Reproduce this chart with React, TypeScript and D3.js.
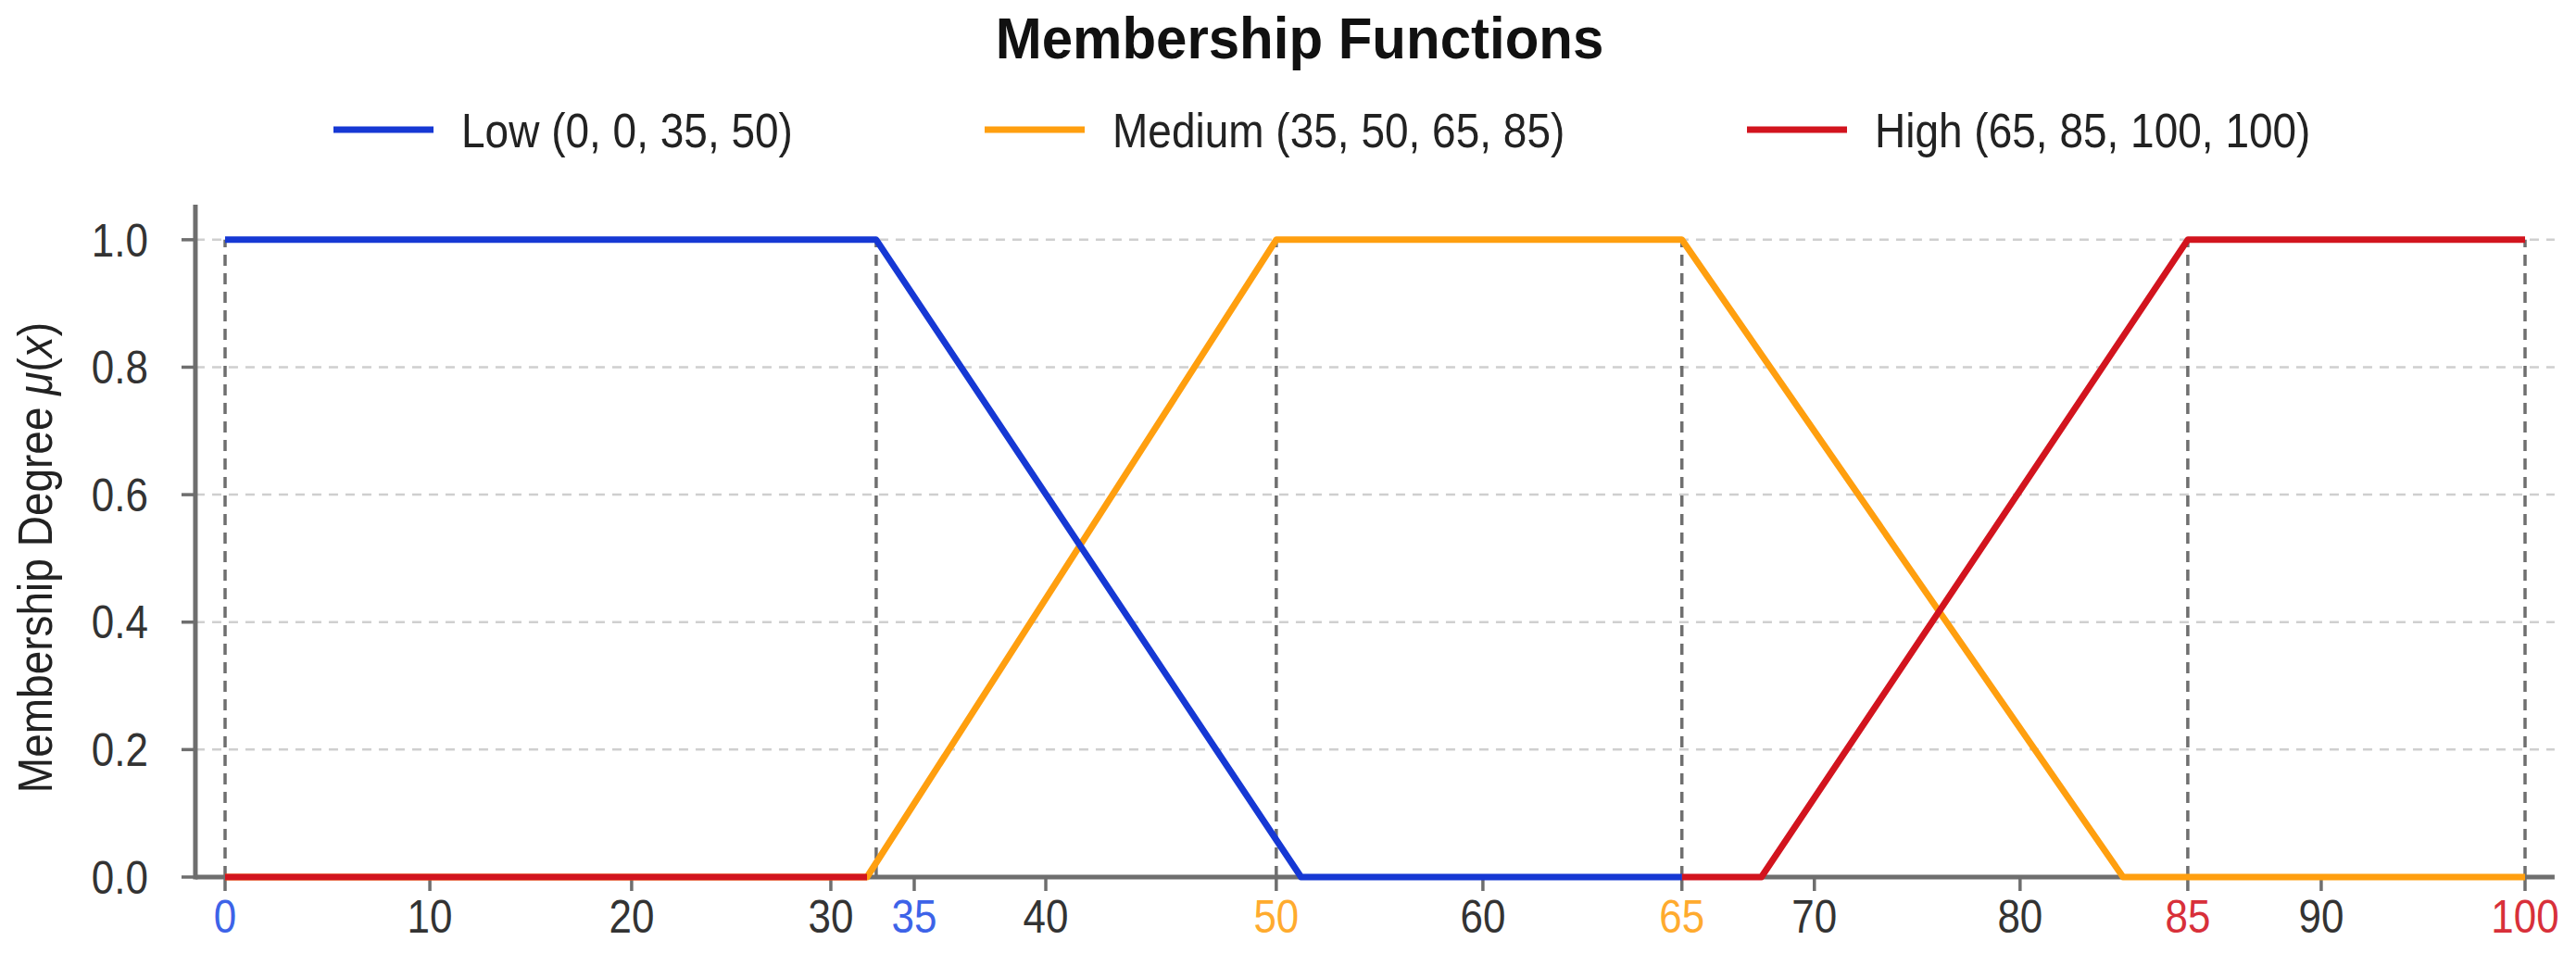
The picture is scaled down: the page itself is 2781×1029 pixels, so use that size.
import React, { useEffect, useRef } from 'react';
import * as d3 from 'd3';

// Axis ticks (the reference spaces them unevenly, so the x scale is piecewise)
const xTicks = [0, 10, 20, 30, 35, 40, 50, 60, 65, 70, 80, 85, 90, 100];
const xTickFrac = [0, 0.0884, 0.1755, 0.2615, 0.2975, 0.3543, 0.4538, 0.5430, 0.6289, 0.6861, 0.7749, 0.8473, 0.9049, 0.9929];
const yTicks = [0, 0.2, 0.4, 0.6, 0.8, 1.0];

// Membership curves (x, mu); null = gap
const lowPts: [number, number | null][] = [[0, 1], [32.72, 1], [51.2, 0], [65, 0]];
const mediumPts: [number, number | null][] = [[0, 0], [32.17, 0], [50, 1], [65, 1], [83.07, 0], [100, 0]];
const highPts: [number, number | null][] = [[0, 0], [32.17, 0], [32.17, null], [65, 0], [68.0, 0], [85, 1], [100, 1]];

// Dashed reference lines
const breakpoints = [0, 32.72, 50, 65, 85, 100];

const seriesNames = ['Low (0, 0, 35, 50)', 'Medium (35, 50, 65, 85)', 'High (65, 85, 100, 100)'];
const seriesColors = ['#1638d4', '#ff9f0f', '#d2141e'];
const tickColors: Record<number, string> = {
  0: '#3d63e8', 35: '#3d63e8', 50: '#ffab2e', 65: '#ffab2e', 85: '#d8303a', 100: '#d8303a',
};

const FONT = '"Liberation Sans", Arial, Helvetica, sans-serif';
const SY = 1.12; // text in the reference is a little stretched vertically

export default function App() {
  const svgRef = useRef<SVGSVGElement>(null);

  useEffect(() => {
    if (!svgRef.current) return;
    const svg = d3.select(svgRef.current);
    svg.selectAll('*').remove();

    const x0 = 243;
    const x100 = 2726;
    const spanW = (x100 - x0) / 0.9929;
    const yBottom = 947;
    const yTop = 221;

    const x = d3.scaleLinear()
      .domain(xTicks)
      .range(xTickFrac.map(f => x0 + f * spanW));
    const y = d3.scaleLinear().domain([0, 1.055]).range([yBottom, yTop]);

    const axisColor = '#6e6e6e';
    const xMin = -1.45;
    const xMax = 101.45;

    // Horizontal grid
    svg.append('g')
      .selectAll('line')
      .data(yTicks.filter(t => t > 0))
      .join('line')
      .attr('x1', x(xMin))
      .attr('x2', x(xMax))
      .attr('y1', d => y(d))
      .attr('y2', d => y(d))
      .attr('stroke', '#cfcfcf')
      .attr('stroke-width', 2.5)
      .attr('stroke-dasharray', '10 8');

    // Breakpoint dashed lines
    svg.append('g')
      .selectAll('line')
      .data(breakpoints)
      .join('line')
      .attr('x1', d => x(d))
      .attr('x2', d => x(d))
      .attr('y1', y(0))
      .attr('y2', y(1))
      .attr('stroke', '#6f6f6f')
      .attr('stroke-width', 3.5)
      .attr('stroke-dasharray', '12 8');

    // Spines
    svg.append('line')
      .attr('x1', x(xMin)).attr('x2', x(xMax))
      .attr('y1', yBottom).attr('y2', yBottom)
      .attr('stroke', axisColor).attr('stroke-width', 5);
    svg.append('line')
      .attr('x1', x(xMin)).attr('x2', x(xMin))
      .attr('y1', yTop).attr('y2', yBottom + 2.5)
      .attr('stroke', axisColor).attr('stroke-width', 5);

    // X ticks
    const gx = svg.append('g');
    gx.selectAll('line')
      .data(xTicks)
      .join('line')
      .attr('x1', d => x(d)).attr('x2', d => x(d))
      .attr('y1', yBottom).attr('y2', yBottom + 15)
      .attr('stroke', axisColor).attr('stroke-width', 3.5);
    gx.selectAll('text')
      .data(xTicks)
      .join('text')
      .attr('transform', d => `translate(${x(d)},${yBottom + 60}) scale(1,${SY})`)
      .attr('text-anchor', 'middle')
      .attr('font-family', FONT)
      .attr('font-size', 44)
      .attr('fill', d => tickColors[d] ?? '#333')
      .text(d => String(d));

    // Y ticks
    const gy = svg.append('g');
    gy.selectAll('line')
      .data(yTicks)
      .join('line')
      .attr('x1', x(xMin) - 15).attr('x2', x(xMin))
      .attr('y1', d => y(d)).attr('y2', d => y(d))
      .attr('stroke', axisColor).attr('stroke-width', 3.5);
    gy.selectAll('text')
      .data(yTicks)
      .join('text')
      .attr('transform', d => `translate(160,${y(d)}) scale(1,${SY})`)
      .attr('dy', '0.36em')
      .attr('text-anchor', 'end')
      .attr('font-family', FONT)
      .attr('font-size', 44)
      .attr('fill', '#333')
      .text(d => d.toFixed(1));

    // Y label
    const yl = svg.append('text')
      .attr('transform', `translate(56,${(yTop + yBottom) / 2 + 18}) rotate(-90) scale(1,${SY})`)
      .attr('text-anchor', 'middle')
      .attr('font-family', FONT)
      .attr('font-size', 46)
      .attr('fill', '#222');
    yl.append('tspan').text('Membership Degree ');
    yl.append('tspan').attr('font-style', 'italic').text('μ');
    yl.append('tspan').text('(');
    yl.append('tspan').attr('font-style', 'italic').text('x');
    yl.append('tspan').text(')');

    // Curves: medium, high, low (low on top)
    const line = d3.line<[number, number | null]>()
      .defined(d => d[1] !== null)
      .x(d => x(d[0]))
      .y(d => y(d[1] as number));

    const curves: [number, [number, number | null][]][] = [[1, mediumPts], [2, highPts], [0, lowPts]];
    curves.forEach(([i, pts]) => {
      svg.append('path')
        .datum(pts)
        .attr('fill', 'none')
        .attr('stroke', seriesColors[i])
        .attr('stroke-width', 7)
        .attr('stroke-linejoin', 'round')
        .attr('d', line);
    });

    // Title
    svg.append('text')
      .attr('transform', `translate(1403,63) scale(1,1.05)`)
      .attr('text-anchor', 'middle')
      .attr('font-family', FONT)
      .attr('font-weight', 'bold')
      .attr('font-size', 60)
      .attr('fill', '#111')
      .text('Membership Functions');

    // Legend
    const legendX = [360, 1063, 1886];
    const lg = svg.append('g');
    seriesNames.forEach((name, i) => {
      lg.append('line')
        .attr('x1', legendX[i]).attr('x2', legendX[i] + 108)
        .attr('y1', 140).attr('y2', 140)
        .attr('stroke', seriesColors[i])
        .attr('stroke-width', 7);
      lg.append('text')
        .attr('transform', `translate(${legendX[i] + 138},140) scale(1,${SY})`)
        .attr('dy', '0.36em')
        .attr('font-family', FONT)
        .attr('font-size', 46)
        .attr('fill', '#222')
        .text(name);
    });
  }, []);

  return (
    <svg
      ref={svgRef}
      width={2781}
      height={1029}
      viewBox="0 0 2781 1029"
      style={{ position: 'absolute', left: 0, top: 0, background: '#fff' }}
    />
  );
}
